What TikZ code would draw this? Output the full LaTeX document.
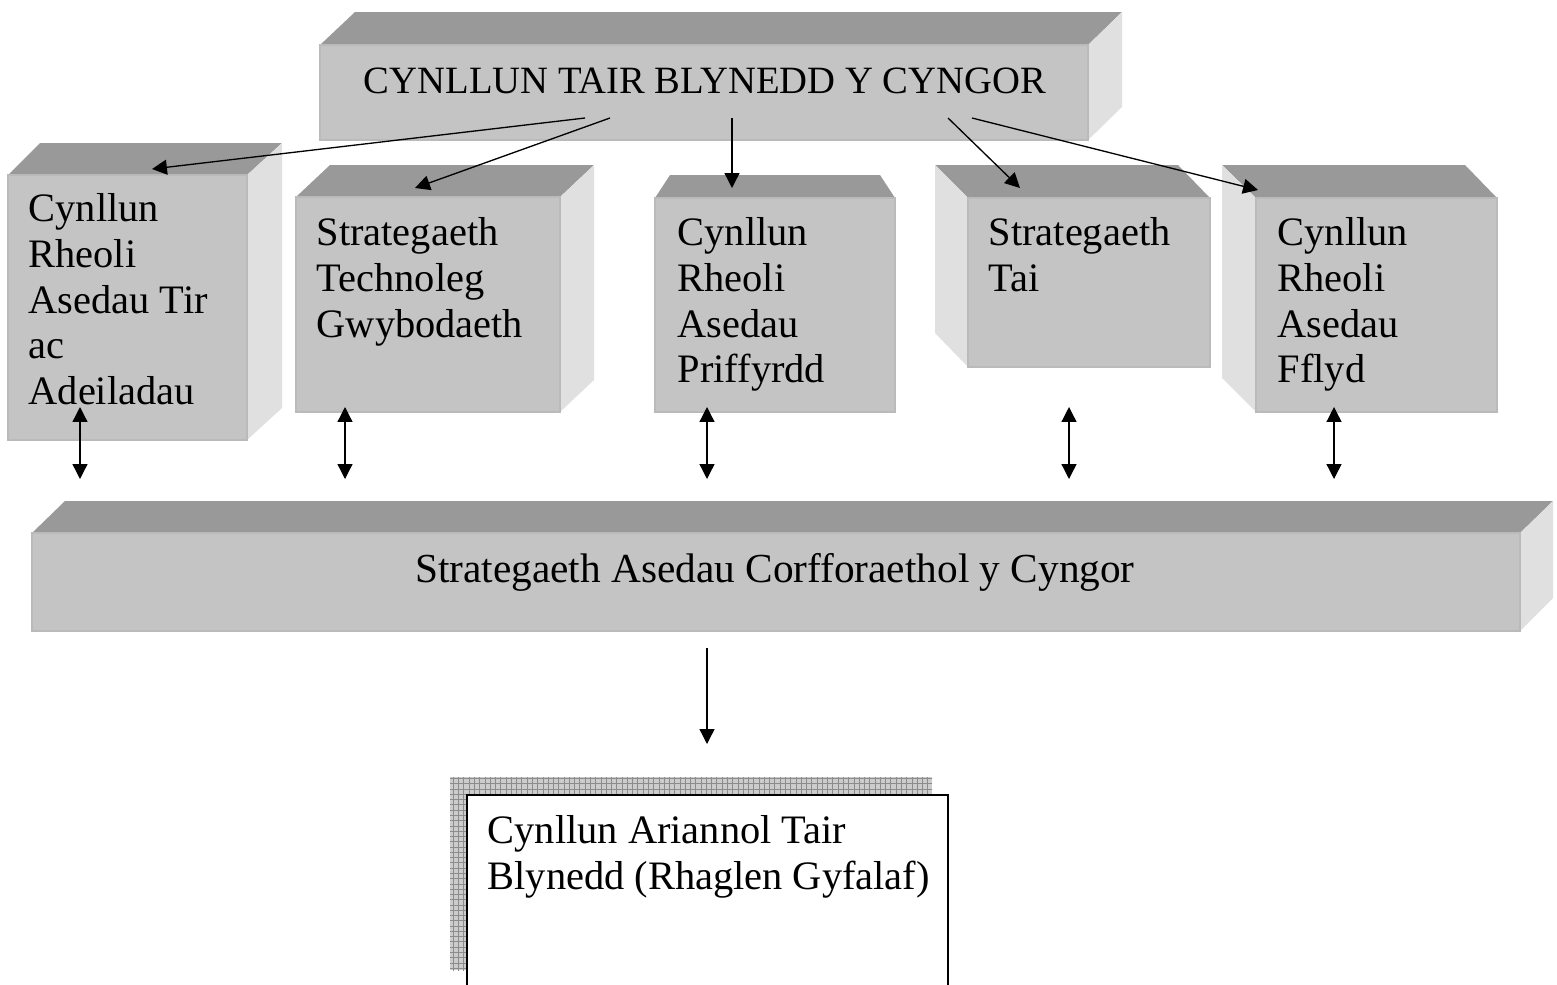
\documentclass[tikz,border=0pt]{standalone}
\usepackage{fontspec}
\setmainfont{Liberation Serif}
\usetikzlibrary{positioning}
\usetikzlibrary{calc}
\usetikzlibrary{arrows.meta}
\usetikzlibrary{patterns}
\definecolor{lidgray}{gray}{0.60}
\definecolor{facegray}{gray}{0.77}
\definecolor{flankgray}{gray}{0.88}
\tikzset{
  lid/.style    = { fill=lidgray },
  flank/.style  = { fill=flankgray },
  front/.style  = { fill=facegray, draw=black!27, line width=0.6pt },
  words/.style  = { inner sep=0pt, align=left, font=\fontsize{23}{26}\selectfont },
}
\tikzset{
  sheet/.style  = { fill=white, draw=black, line width=1.1pt },
  shadow/.style = { pattern=grid, pattern color=black!45 },
}

\begin{document}
\begin{tikzpicture}[
  x=0.02cm,y=-0.02cm,
  >={Triangle[length=8.5pt,width=8.5pt]},line width=0.75pt,
  every new ->/.style={shorten >=0pt}
]
  \useasboundingbox (0,0) rectangle (1557,984);

  % council three year plan
  \fill[lid]   (320,45) -- (355,12) -- (1122,12) -- (1088,45) -- cycle;
  \fill[flank] (1088,45) -- (1122,12) -- (1122,107) -- (1088,140) -- cycle;
  \path[front] (320,45) rectangle (1088,140);
  \node (plan) [words,anchor=base,font=\fontsize{22}{26}\selectfont] at (705,93)
        {CYNLLUN TAIR BLYNEDD Y CYNGOR};

  % land and buildings
  \fill[lid]   (8,175) -- (40,143) -- (282,143) -- (247,175) -- cycle;
  \fill[flank] (247,175) -- (282,143) -- (282,408) -- (247,440) -- cycle;
  \path[front] (8,175) rectangle (247,440);
  \node (tir) [words,anchor=north west] at (28,193)
        {Cynllun\\Rheoli\\Asedau Tir\\ac\\Adeiladau};

  % information technology
  \fill[lid]   (296,197) -- (330,165) -- (594,165) -- (560,197) -- cycle;
  \fill[flank] (560,197) -- (594,165) -- (594,380) -- (560,412) -- cycle;
  \path[front] (296,197) rectangle (560,412);
  \node (tech) [words,anchor=north west] at (316,217)
        {Strategaeth\\Technoleg\\Gwybodaeth};

  % highways
  \fill[lid]   (655,198) -- (670,175) -- (880,175) -- (895,198) -- cycle;
  \path[front] (655,198) rectangle (895,412);
  \node (ffyrdd) [words,anchor=north west] at (677,217)
        {Cynllun\\Rheoli\\Asedau\\Priffyrdd};

  % housing
  \fill[lid]   (968,198) -- (935,165) -- (1178,165) -- (1210,198) -- cycle;
  \fill[flank] (968,198) -- (935,165) -- (935,333) -- (968,367) -- cycle;
  \path[front] (968,198) rectangle (1210,367);
  \node (tai) [words,anchor=north west] at (988,217)
        {Strategaeth\\Tai};

  % fleet
  \fill[lid]   (1256,198) -- (1222,165) -- (1465,165) -- (1497,198) -- cycle;
  \fill[flank] (1256,198) -- (1222,165) -- (1222,378) -- (1256,412) -- cycle;
  \path[front] (1256,198) rectangle (1497,412);
  \node (fflyd) [words,anchor=north west] at (1277,217)
        {Cynllun\\Rheoli\\Asedau\\Fflyd};

  % corporate asset strategy
  \fill[lid]   (32,533) -- (65,501) -- (1553,501) -- (1520,533) -- cycle;
  \fill[flank] (1520,533) -- (1553,501) -- (1553,598) -- (1520,631) -- cycle;
  \path[front] (32,533) rectangle (1520,631);
  \node (corff) [words,anchor=base,font=\fontsize{23.5}{26}\selectfont] at (775,582)
        {Strategaeth Asedau Corfforaethol y Cyngor};

  % capital programme
  \fill[black!20] (450,777) rectangle (932,970);
  \path[shadow]   (450,777) rectangle (932,970);
  \path[sheet]    (467,795) rectangle (948,1010);
  \node (ariannol) [words,anchor=north west] at (487,815)
        {Cynllun Ariannol Tair\\Blynedd (Rhaglen Gyfalaf)};

  % plan down to the five strategies
  \coordinate (plan a) at (585,118);  \coordinate (tir top)    at (152,169);
  \coordinate (plan b) at (610,118);  \coordinate (tech top)   at (415,188);
  \coordinate (plan c) at (732,118);  \coordinate (ffyrdd top) at (732,188);
  \coordinate (plan d) at (948,118);  \coordinate (tai top)    at (1020,188);
  \coordinate (plan e) at (972,118);  \coordinate (fflyd top)  at (1258,190);
  \draw [->] (plan a) -- (tir top);
  \draw [->] (plan b) -- (tech top);
  \draw [->] (plan c) -- (ffyrdd top);
  \draw [->] (plan d) -- (tai top);
  \draw [->] (plan e) -- (fflyd top);

  % both ways with the corporate strategy
  \foreach \x/\n in {80/tir,345/tech,707/ffyrdd,1069/tai,1334/fflyd} {
    \coordinate (\n up)   at (\x,407);
    \coordinate (\n down) at (\x,479);
    \draw [<->] (\n up) -- (\n down);
  }

  \coordinate (corff out)   at (707,648);
  \coordinate (ariannol in) at (707,744);
  \draw [->] (corff out) -- (ariannol in);

\end{tikzpicture}
\end{document}
